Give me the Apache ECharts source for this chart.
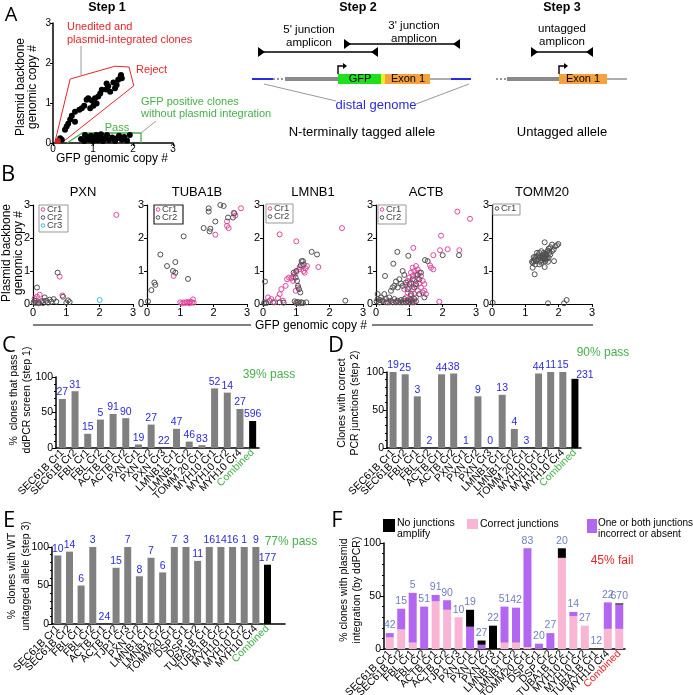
<!DOCTYPE html>
<html><head><meta charset="utf-8">
<script src="https://cdn.jsdelivr.net/npm/echarts@6/dist/echarts.min.js"></script>
<style>html,body{margin:0;padding:0;background:#fff}#c{width:693px;height:695px}</style>
</head><body><div id="c"></div>
<script>
// ---------- DATA ----------
// Panel A, step 1 scatter (GFP copy #, plasmid copy #)
const step1Reject = [[0.18,0.12],[0.22,0.08],[0.3,0.33],[0.34,0.41],[0.38,0.48],[0.43,0.59],[0.47,0.68],[0.55,0.53],[0.55,0.78],[0.66,0.83],[0.72,0.87],[0.78,0.93],[0.84,1.08],[0.88,1.12],[0.93,0.87],[0.97,1.06],[1.01,0.93],[1.05,1.12],[1.09,0.99],[1.13,1.16],[1.18,1.24],[1.22,1.33],[1.33,1.34],[1.34,1.49],[1.38,1.42],[1.43,1.28],[1.51,1.51],[1.55,1.37],[1.59,1.45],[1.63,1.58],[1.69,1.66],[1.72,1.62],[1.7,1.7]];
const step1Pass = [[0.7,0.1],[0.78,0.05],[0.85,0.15],[0.9,0.08],[0.95,0.18],[1.0,0.05],[1.02,0.12],[1.08,0.2],[1.12,0.07],[1.18,0.14],[1.25,0.05],[1.3,0.12],[1.35,0.2],[1.4,0.07],[1.48,0.14],[1.55,0.05],[1.6,0.12],[1.65,0.18],[1.72,0.08],[1.78,0.15],[1.85,0.06],[1.92,0.2],[0.8,0.2],[1.2,0.22]];
const step1Red = [[0.12,0.05]];
const rejectPolygon = [[0.05,0.03],[0.43,1.6],[1.55,1.92],[1.9,1.9],[2.02,1.43],[0.25,0.03],[0.05,0.03]];
const passPolygon = [[0.35,0],[0.73,0.25],[2.2,0.25],[2.2,0]];

// Panel B scatters
const bTitles = ['PXN','TUBA1B','LMNB1','ACTB','TOMM20'];
const pxnCr1 = [[2.5,2.7],[0.8,0.83],[0.88,0.26],[0.05,0.17],[0.2,0.28],[0.12,0.22],[0.1,0.1],[0.3,0.1],[0.15,0.05]];
const pxnCr2 = [[0.74,0.95],[0.12,0.5],[0.9,0.22],[0.35,0.2],[0.02,0.05],[0.05,0.1],[0.08,0.03],[0.25,0.08],[0.4,0.1],[0.5,0.13],[0.55,0.07],[0.62,0.15],[0.7,0.07],[0.45,0.04],[1.05,0.11],[1.1,0.06],[1.0,0.04],[0.18,0.02],[0.3,0.03]];
const pxnCr3 = [[2.0,0.12]];
const tubCr1 = [[2.82,2.9],[2.6,2.76],[2.65,2.68],[2.4,2.5],[2.4,2.37],[2.45,2.3],[2.05,2.1],[0.8,0.85],[1.0,0.05],[1.1,0.05],[1.15,0.03],[1.2,0.06],[1.25,0.04],[1.3,0.07],[1.35,0.05],[1.38,0.14],[1.28,0.02],[1.05,0.02],[1.4,0.04]];
const tubCr2 = [[2.85,3.05],[2.62,2.75],[2.58,2.62],[2.43,2.62],[2.2,3.0],[2.3,2.97],[1.85,2.9],[1.85,2.8],[2.05,2.5],[1.9,2.28],[1.88,2.2],[1.7,2.3],[1.1,2.05],[0.4,1.5],[0.6,1.15],[0.78,1.0],[0.85,1.27],[0.85,0.95],[1.23,0.76],[0.22,0.65],[0.25,0.58],[0.13,0.42],[0.03,0.08]];
const lmnCr1 = [[2.37,2.3],[0.5,2.11],[1.0,1.9],[1.66,1.12],[1.1,1.12],[1.18,1.15],[1.28,1.08],[1.32,1.15],[1.22,1.0],[1.25,0.95],[1.08,1.05],[1.0,0.98],[0.95,0.9],[0.9,0.82],[0.85,0.78],[0.78,0.8],[0.72,0.75],[0.9,0.7],[0.68,0.55],[0.55,0.45],[0.5,0.3],[0.45,0.18],[0.25,0.15],[0.15,0.2],[0.2,0.1],[0.35,0.05],[0.98,0.4],[1.05,0.5],[0.6,0.1],[1.0,0.05],[1.15,0.05]];
const lmnCr2 = [[1.46,1.58],[1.62,1.5],[1.16,1.3],[1.2,1.3],[1.13,1.17],[1.22,1.2],[1.0,1.0],[0.92,0.95],[0.06,0.68],[0.98,0.8],[1.02,0.7],[1.05,0.55],[1.08,0.45],[1.12,0.35],[2.47,0.1],[0.05,0.05],[0.1,0.03],[0.3,0.05],[0.5,0.05],[0.62,0.04],[0.95,0.08],[1.0,0.03],[1.05,0.06],[1.1,0.02],[1.15,0.05],[1.2,0.03],[1.3,0.05],[0.03,0.02]];
const actCr1 = [[1.95,3.09],[2.44,2.8],[2.82,2.58],[1.95,2.07],[1.12,1.7],[1.72,1.48],[1.92,1.63],[2.15,1.66],[2.5,1.63],[1.62,1.17],[1.65,1.1],[1.72,1.05],[1.9,0.07],[1.1,1.1],[1.2,1.15],[1.25,1.05],[1.15,1.0],[1.3,0.95],[1.05,0.95],[1.2,0.9],[1.1,0.85],[1.35,0.85],[1.0,0.8],[1.25,0.78],[1.15,0.72],[1.4,0.7],[0.95,0.7],[1.05,0.65],[1.3,0.62],[1.45,0.6],[1.2,0.55],[0.9,0.58],[1.0,0.5],[1.35,0.5],[1.1,0.45],[0.85,0.45],[1.25,0.4],[0.95,0.35],[1.15,0.3],[1.4,0.35],[1.05,0.25],[0.9,0.2],[1.2,0.2],[1.0,0.15],[1.1,0.1],[0.95,0.08],[1.05,0.05],[0.85,0.1],[1.15,0.05],[0.75,0.05],[0.6,0.08],[0.4,0.05],[0.2,0.1],[0.1,0.05],[1.5,0.3],[1.45,0.4]];
const actCr2 = [[0.64,1.58],[0.97,1.46],[2.0,1.48],[2.49,1.48],[0.52,1.22],[0.27,0.85],[1.47,1.33],[1.55,1.3],[0.8,1.0],[0.85,0.88],[0.7,0.75],[0.6,0.68],[0.75,0.62],[0.55,0.55],[0.5,0.5],[0.65,0.5],[0.8,0.55],[0.9,0.65],[0.45,0.4],[1.0,0.6],[1.2,0.6],[1.3,0.75],[1.1,0.75],[1.25,0.88],[1.35,0.95],[1.15,0.5],[1.45,0.2],[1.3,0.3],[0.95,0.45],[1.05,0.3],[0.05,0.3],[0.05,0.15],[0.1,0.05],[0.15,0.2],[0.2,0.1],[0.25,0.3],[0.3,0.15],[0.35,0.05],[0.4,0.2],[0.45,0.1],[0.5,0.05],[0.55,0.15],[0.6,0.05],[0.65,0.1],[0.7,0.05],[0.75,0.12],[0.8,0.05],[0.85,0.15],[0.9,0.05],[0.95,0.1],[1.0,0.05],[1.05,0.12],[1.1,0.05],[1.15,0.15],[0.3,0.05],[0.02,0.08],[0.12,0.12],[1.2,0.08]];
const tomCr1 = [[1.58,1.87],[1.99,1.82],[1.95,1.78],[1.9,1.75],[1.8,1.8],[1.75,1.72],[1.7,1.68],[1.68,1.62],[1.72,1.55],[1.65,1.58],[1.6,1.52],[1.62,1.45],[1.55,1.5],[1.5,1.45],[1.58,1.4],[1.52,1.38],[1.45,1.42],[1.4,1.48],[1.35,1.45],[1.3,1.42],[1.28,1.35],[1.25,1.3],[1.22,1.25],[1.2,1.28],[1.32,1.3],[1.38,1.35],[1.45,1.3],[1.5,1.32],[1.55,1.35],[1.6,1.3],[1.65,1.38],[1.7,1.4],[1.75,1.5],[1.8,1.6],[1.85,1.65],[1.62,1.35],[1.48,1.25],[1.42,1.2],[1.3,1.2],[1.58,1.12],[1.28,0.9],[1.22,1.1],[1.86,1.3],[1.55,1.55],[1.48,1.6],[1.42,1.55],[1.68,1.28],[1.35,1.55],[1.25,1.42],[1.68,0.02],[2.16,0.02],[2.24,0.12],[0.02,0.04],[1.52,1.45],[1.6,1.45],[1.56,1.42],[1.64,1.5]];
const bTicks = [0,1,2,3];

// Panel C
const cCats = ['SEC61B Cr1','SEC61B Cr2','FBL Cr1','FBL Cr2','ACTB Cr1','ACTB Cr2','PXN Cr1','PXN Cr2','PXN Cr3','LMNB1 Cr1','LMNB1 Cr2','TOMM 20 Cr1','MYH10 Cr1','MYH10 Cr2','MYH10 Cr4','Combined'];
const cVals = [69,80,20,40,48,42,5,33,0,27,9,4,84,78,55,38];
const cN    = [27,31,15,5,91,90,19,27,22,47,46,83,52,14,27,596];
// Panel D
const dCats = cCats;
const dVals = [100,97,68,0,97,98,0,68,0,70,25,0,98,100,100,91];
const dN    = [19,25,3,2,44,38,1,9,0,13,4,3,44,11,15,231];
// Panel E
const eCats = ['SEC61B Cr1','SEC61B Cr2','FBL Cr1','FBL Cr2','ACTB Cr1','ACTB Cr2','TJP1 Cr3','PXN Cr2','LMNB1 Cr1','LMNB1 Cr2','TOMM20 Cr1','DSP Cr1','DSP Cr2','TUBA1B Cr1','TUBA1B Cr2','MYH10 Cr1','MYH10 Cr2','MYH10 Cr4','Combined',''];
const eVals = [89,94,50,100,0,73,100,62,86,67,100,100,82,100,100,100,100,100,77];
const eN    = [10,14,6,3,24,15,7,8,7,6,7,3,11,16,14,16,1,9,177];
// Panel F
const fCats = ['SEC61B Cr1','SEC61B Cr2','FBL Cr1','FBL Cr2','ACTB Cr1','ACTB Cr2','TJP1 Cr3','PXN Cr1','PXN Cr2','PXN Cr3','LMNB1 Cr1','LMNB1 Cr2','TOMM20 Cr1','DSP Cr1','DSP Cr2','TUBA1B Cr2','MYH10 Cr1','MYH10 Cr2','TUBA1B Cr1','MYH10 Cr4','Combined'];
const fCorrect   = [11,18.5,6,0,45,37,30,0,0,0,6,6,2,0,0,86,31,22,0,19,19];
const fIncorrect = [4,19.5,47,40,6,9,0,21,4,0,34,33,93,5,15,0,4,0,0,25,23];
const fNone      = [0,0,0,0,0,0,0,16,4,22,0,0,0,0,0,9,0,0,0,0,1];
const fN         = [42,15,5,51,91,90,10,19,27,22,51,42,83,20,27,20,14,27,12,22,670];
const pctTicks = [0,50,100];

// ---------- STYLE ----------
const FONT = '"Liberation Sans", Arial, Helvetica, sans-serif';
const PINK = '#e0489e', GRAY = '#505050', CYAN = '#3cb8e0';
const BLUE = '#2a2ae0', GREEN = '#45b04a', RED = '#e8242a';
const BARGRAY = '#808080';
const FPINK = '#f8b6d4', FPURPLE = '#b366f0';

const grids = [], xAxes = [], yAxes = [], series = [], G = [];

function addGrid(l,t,w,h){ grids.push({left:l, top:t, width:w, height:h, containLabel:false, outerBoundsMode:'none'}); return grids.length-1; }
function valAx(gi, fs, mg){ return {type:'value', gridIndex:gi, min:0, max:3, interval:1,
  axisLine:{show:true, onZero:false, lineStyle:{color:'#000', width:1.2}},
  axisTick:{show:true, length:3, inside:false, lineStyle:{color:'#000'}},
  axisLabel:{fontSize:fs||11, color:'#000', fontFamily:FONT, margin:(mg==null?3:mg), showMinLabel:true, showMaxLabel:true},
  splitLine:{show:false}}; }
function catAx(gi, cats, comboColor){ return {type:'category', gridIndex:gi,
  data: cats.map(c => c==='Combined' ? {value:c, textStyle:{color:comboColor}} : c),
  axisLine:{show:true, lineStyle:{color:'#000', width:1.5}}, axisTick:{show:false},
  axisLabel:{interval:0, rotate:45, fontSize:10.5, color:'#000', fontFamily:FONT, margin:3, hideOverlap:false},
  splitLine:{show:false}}; }
function pctAx(gi){ return {type:'value', gridIndex:gi, min:0, max:100, interval:50,
  axisLine:{show:true, lineStyle:{color:'#000', width:1.5}},
  axisTick:{show:true, length:4, lineStyle:{color:'#000'}},
  minorTick:{show:true, splitNumber:5, length:2, lineStyle:{color:'#000'}},
  axisLabel:{fontSize:10.5, color:'#000', fontFamily:FONT, margin:3},
  splitLine:{show:false}}; }

function T(text,x,y,o){ o=o||{}; const s=o.s||12;
  const font=(o.w?o.w+' ':'')+s+'px '+(o.f||FONT);
  return {type:'text', x:x, y:y, rotation:o.rot||0, z:50, silent:true,
    style:{text:text, fill:o.c||'#000', font:font, textAlign:o.a||'center', textVerticalAlign:o.v||'middle',
      align:o.a||'center', verticalAlign:o.v||'middle', lineHeight:o.lh||Math.round(s*1.2)}}; }
function L(x1,y1,x2,y2,o){ o=o||{}; return {type:'line', z:50, silent:true, shape:{x1,y1,x2,y2},
  style:{stroke:o.c||'#000', lineWidth:o.w||1, lineDash:o.d||null}}; }
function R(x,y,w,h,fill,stroke,lw){ return {type:'rect', z:50, silent:true, shape:{x,y,width:w,height:h},
  style:{fill:fill, stroke:stroke||null, lineWidth:lw||1}}; }
function P(points, fill){ return {type:'polygon', z:50, silent:true, shape:{points}, style:{fill:fill}}; }
function PL(points, stroke, w){ return {type:'polyline', z:50, silent:true, shape:{points}, style:{stroke:stroke, lineWidth:w||1, fill:null}}; }
function C(cx,cy,r,stroke){ return {type:'circle', z:51, silent:true, shape:{cx,cy,r}, style:{fill:'none', stroke:stroke, lineWidth:1}}; }

// ---------- PANEL A ----------
const gA = addGrid(53,23,120,120);
xAxes.push(valAx(gA,10,1)); yAxes.push(valAx(gA,10,2));
xAxes[gA].axisLine.lineStyle.width = 1.5; yAxes[gA].axisLine.lineStyle.width = 1.5;
series.push({type:'line', xAxisIndex:gA, yAxisIndex:gA, data:rejectPolygon, symbol:'none', lineStyle:{color:RED, width:1}, silent:true, z:1});
series.push({type:'line', xAxisIndex:gA, yAxisIndex:gA, data:passPolygon, symbol:'none', lineStyle:{color:GREEN, width:1.3}, silent:true, z:1});
series.push({type:'scatter', xAxisIndex:gA, yAxisIndex:gA, data:step1Reject, symbolSize:6, itemStyle:{color:'#000', opacity:1}, silent:true});
series.push({type:'scatter', xAxisIndex:gA, yAxisIndex:gA, data:step1Pass, symbolSize:6, itemStyle:{color:'#000', opacity:1}, silent:true});
series.push({type:'scatter', xAxisIndex:gA, yAxisIndex:gA, data:step1Red, symbolSize:6, itemStyle:{color:'#d02020', opacity:1}, silent:true});

G.push(T('A',11,15,{s:20,f:'"Open Sans", sans-serif'}));
G.push(T('Step 1',107,8,{s:12.5,w:'bold'}));
G.push(T('Step 2',358,8,{s:12.5,w:'bold'}));
G.push(T('Step 3',562,8,{s:12.5,w:'bold'}));
G.push(T('Plasmid backbone\ngenomic copy #',27,87,{s:12,rot:Math.PI/2,lh:12}));
G.push(T('GFP genomic copy #',112,159,{s:12}));
G.push(T('Unedited and\nplasmid-integrated clones',67,33,{s:11,c:RED,a:'left',lh:13}));
G.push(L(81,46,81,75,{c:'#999'}));
G.push(T('Reject',136,70,{s:11,c:RED,a:'left'}));
G.push(T('GFP positive clones\nwithout plasmid integration',141,108,{s:11,c:GREEN,a:'left',lh:12}));
G.push(L(156,121,141,133,{c:'#999'}));
G.push(T('Pass',117,128,{s:11,c:GREEN}));

function bracket(x1,x2,y){
  G.push(L(x1,y,x2,y,{w:1.6}));
  G.push(P([[x1,y-5],[x1,y+5],[x1+7,y]],'#000'));
  G.push(P([[x2,y-5],[x2,y+5],[x2-7,y]],'#000'));
}
function bentArrow(x){
  G.push(PL([[x,74],[x,66],[x+6,66]],'#000',1.4));
  G.push(P([[x+5,63],[x+5,69],[x+9,66]],'#000'));
}
// Step 2
G.push(T("5' junction\namplicon",309,36,{s:11.5,lh:13}));
G.push(T("3' junction\namplicon",414,32,{s:11.5,lh:13}));
bracket(258,378,52);
bracket(344,460,44);
G.push(L(252,79,273,79,{c:'#2a2ae0',w:2}));
G.push(L(273,79,285,79,{c:'#777',w:1.3,d:[2,2]}));
G.push(L(285,79,338,79,{c:'#8a8a8a',w:4}));
G.push(R(338,74,43,10,'#1ee01e'));
G.push(R(381,74,4,10,'#eded2a'));
G.push(R(385,74,45,10,'#f6a23c'));
G.push(L(430,79,451,79,{c:'#8a8a8a',w:1.4}));
G.push(L(451,79,471,79,{c:'#2a2ae0',w:2}));
bentArrow(338);
G.push(T('GFP',360,79,{s:11}));
G.push(T('Exon 1',408,79,{s:11}));
G.push(L(264,84,336,101,{c:'#999'}));
G.push(L(469,84,416,104,{c:'#999'}));
G.push(T('distal genome',376,105,{s:13,c:'#2a2ae0'}));
G.push(T('N-terminally tagged allele',362,132,{s:13}));
// Step 3
G.push(T('untagged\namplicon',562,35,{s:11.5,lh:13}));
bracket(531,593,52);
G.push(L(496,79,507,79,{c:'#777',w:1.3,d:[2,2]}));
G.push(L(507,79,559,79,{c:'#8a8a8a',w:4}));
G.push(R(559,74,48,10,'#f6a23c'));
G.push(L(607,79,627,79,{c:'#8a8a8a',w:1.4}));
bentArrow(559);
G.push(T('Exon 1',583,79,{s:11}));
G.push(T('Untagged allele',562,132,{s:13}));

// ---------- PANEL B ----------
const bLefts = [33,147,263,376,492];
const bSets = [
  [[pxnCr1,PINK],[pxnCr2,GRAY],[pxnCr3,CYAN]],
  [[tubCr1,PINK],[tubCr2,GRAY]],
  [[lmnCr1,PINK],[lmnCr2,GRAY]],
  [[actCr1,PINK],[actCr2,GRAY]],
  [[tomCr1,GRAY]]
];
bLefts.forEach((l,i)=>{
  const gi = addGrid(l,205,100,99);
  xAxes.push(valAx(gi,11)); yAxes.push(valAx(gi,11));
  bSets[i].forEach(([d,col])=>{
    series.push({type:'scatter', xAxisIndex:gi, yAxisIndex:gi, data:d, symbol:'circle', symbolSize:5,
      itemStyle:{color:'rgba(0,0,0,0)', borderColor:col, borderWidth:1, opacity:1}, silent:true});
  });
  G.push(T(bTitles[i], l+50, 192, {s:13}));
});
function legendBox(x,y,w,h,items,border,lw){
  G.push(Object.assign(R(x,y,w,h,'#fff',border,lw||1),{z:51}));
  items.forEach((it,k)=>{
    const cy = y+4.5+k*8;
    G.push(C(x+4,cy,1.8,it[1]));
    G.push(Object.assign(T(it[0],x+8,cy,{s:9.5,c:'#444',a:'left'}),{z:52}));
  });
}
legendBox(39,205,29,27,[['Cr1',PINK],['Cr2',GRAY],['Cr3',CYAN]],'#999');
legendBox(154,205,29,19,[['Cr1',PINK],['Cr2',GRAY]],'#222',1.2);
legendBox(266,204,27,19,[['Cr1',PINK],['Cr2',GRAY]],'#999');
legendBox(378,205,28,19,[['Cr1',PINK],['Cr2',GRAY]],'#999');
legendBox(493,204,27,11,[['Cr1',GRAY]],'#999');
G.push(T('B',8,175,{s:22,f:'"Open Sans", sans-serif'}));
G.push(T('Plasmid backbone\ngenomic copy #',13,253,{s:12,rot:Math.PI/2,lh:12}));
G.push(L(33,325,251,325,{w:1}));
G.push(L(372,325,593,325,{w:1}));
G.push(T('GFP genomic copy #',311,326,{s:12}));

// ---------- PANELS C-F ----------
function barSeries(gi, vals, counts, labelColor, lastOffset){
  series.push({type:'bar', xAxisIndex:gi, yAxisIndex:gi, barWidth:7,
    data: vals.map((v,i)=> i===vals.length-1 ? Object.assign({value:v, itemStyle:{color:'#000'}}, lastOffset?{label:{offset:lastOffset}}:{}) : v),
    itemStyle:{color:BARGRAY},
    label:{show:true, position:'top', distance:1, color:labelColor, fontSize:10.5, fontFamily:FONT,
      formatter:p=>String(counts[p.dataIndex])}, silent:true});
}
const gC = addGrid(56,377,203,71);
xAxes.push(catAx(gC,cCats,GREEN)); yAxes.push(pctAx(gC));
barSeries(gC,cVals,cN,BLUE);
G.push(T('C',9,346,{s:22,f:'"Open Sans", sans-serif'}));
G.push(T('%  clones that pass\nddPCR screen (step 1)',21,400,{s:10.5,rot:Math.PI/2,lh:13}));
G.push(T('39% pass',269,375,{s:12,c:GREEN}));

const gD = addGrid(387,372,194,76);
xAxes.push(catAx(gD,dCats,GREEN)); yAxes.push(pctAx(gD));
barSeries(gD,dVals,dN,BLUE,[10,3]);
G.push(T('D',336,346,{s:22,f:'"Open Sans", sans-serif'}));
G.push(T('Clones with correct\nPCR junctions (step 2)',349,403,{s:10.5,rot:Math.PI/2,lh:13}));
G.push(T('90% pass',603,353,{s:12,c:GREEN}));

const gE = addGrid(52,547,233,77);
xAxes.push(catAx(gE,eCats,GREEN)); yAxes.push(pctAx(gE));
barSeries(gE,eVals,eN,BLUE);
G.push(T('E',9,521,{s:22,f:'"Open Sans", sans-serif'}));
G.push(T('%  clones with WT\nuntagged allele (step 3)',19,576,{s:10.5,rot:Math.PI/2,lh:14}));
G.push(T('77% pass',291,542,{s:12,c:GREEN}));

const gF = addGrid(384,543,241,106);
xAxes.push(catAx(gF,fCats,RED)); yAxes.push(pctAx(gF));
const fLab = '#4a5cb4';
[[fCorrect,FPINK],[fIncorrect,FPURPLE],[fNone,'#000']].forEach(([d,col])=>{
  series.push({type:'bar', xAxisIndex:gF, yAxisIndex:gF, stack:'f', barWidth:8, data:d, itemStyle:{color:col}, silent:true});
});
series.push({type:'scatter', xAxisIndex:gF, yAxisIndex:gF, symbolSize:0.1, itemStyle:{color:'rgba(0,0,0,0)'},
  data: fCorrect.map((v,i)=> v + fIncorrect[i] + fNone[i]),
  label:{show:true, position:'top', distance:2, color:fLab, fontSize:10.5, fontFamily:FONT, formatter:p=>String(fN[p.dataIndex])}, silent:true, z:5});
G.push(T('F',337,521,{s:22,f:'"Open Sans", sans-serif'}));
G.push(T('% clones with plasmid\nintegration (by ddPCR)',351,590,{s:10.5,rot:Math.PI/2,lh:13}));
G.push(T('45% fail',612,561,{s:12,c:RED}));
G.push(R(383,519,12,13,'#000'));
G.push(T('No junctions\namplify',397,529,{s:10.5,a:'left',lh:11}));
G.push(R(467,519,11,10,FPINK));
G.push(T('Correct junctions',480,524,{s:10.5,a:'left'}));
G.push(R(587,519,10,14,FPURPLE));
G.push(T('One or both junctions\nincorrect or absent',598,529,{s:10,a:'left',lh:11}));

const chart = echarts.init(document.getElementById('c'), null, {renderer:'canvas', width:693, height:695});
chart.setOption({
  animation:false,
  backgroundColor:'#fff',
  textStyle:{fontFamily:FONT},
  grid:grids, xAxis:xAxes, yAxis:yAxes, series:series,
  graphic:{elements:G}
});
</script></body></html>
